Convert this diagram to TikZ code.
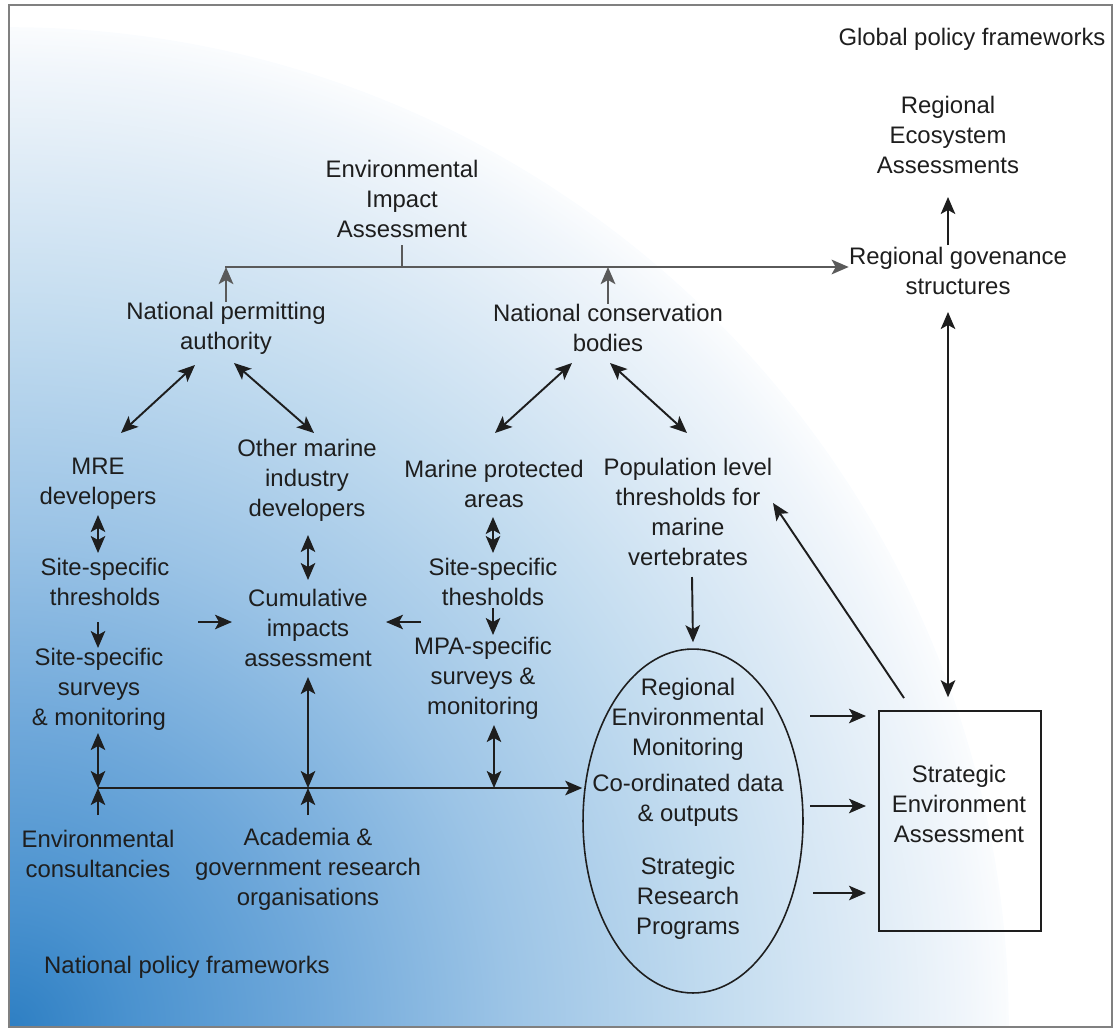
\documentclass[tikz,border=0pt]{standalone}
\usepackage{fontspec}
\setmainfont{Liberation Sans}
\usepackage{xcolor}
\usetikzlibrary{arrows.meta,shapes.geometric}
\definecolor{ink}{HTML}{1E1E1E}
\definecolor{rulegray}{HTML}{5A5A5A}
\definecolor{framegray}{HTML}{808080}
\definecolor{bgdeep}{HTML}{2E7FC3}
\definecolor{bgdark}{HTML}{4A92CF}
\definecolor{bgmid}{HTML}{6FA8DA}
\definecolor{bglight}{HTML}{9CC4E6}
\definecolor{bgpale}{HTML}{C1DBEF}
\definecolor{bgmist}{HTML}{DEEBF6}
\definecolor{bgfaint}{HTML}{F1F6FB}
\pgfdeclareradialshading{policyglow}{\pgfpoint{0bp}{0bp}}{%
  color(0bp)=(bgdeep); color(3bp)=(bgdark); color(7.5bp)=(bgmid);
  color(12.5bp)=(bglight); color(17.5bp)=(bgpale); color(21.5bp)=(bgmist);
  color(24bp)=(bgfaint); color(25.5bp)=(white); color(50bp)=(white)}

\begin{document}
\begin{tikzpicture}[
  x=0.02cm,y=-0.02cm,
  >={Stealth[length=3.4mm,width=2.9mm,inset=0.8mm]},
  txt/.style={align=center,inner sep=0pt,text=ink,
              font=\fontsize{13.6}{17}\selectfont},
  arr/.style={->,line width=1.1pt,draw=ink},
  dbl/.style={<->,line width=1.1pt,draw=ink},
  topline/.style={line width=1.6pt,draw=rulegray},
  hub/.style={draw=ink,ellipse,line width=0.9pt,inner sep=0pt,
              minimum width=4.4cm,minimum height=6.88cm},
  sebox/.style={draw=ink,line width=0.9pt,inner sep=0pt,
                minimum width=3.24cm,minimum height=4.4cm}]
  \useasboundingbox (0,0) rectangle (1115,1028);
  % background
  \begin{scope}
    \clip (9,5) rectangle (1112,1027);
    \shade[shading=policyglow] (9,1027) circle[radius=20cm];
  \end{scope}
  \draw[framegray,line width=1pt] (9,5) rectangle (1112,1027);

  \node[txt] (gpf) at (972,39) {Global policy frameworks};
  \node[txt] (rea) at (948,135) {Regional\\Ecosystem\\Assessments};
  \node[txt] (rgs) at (958,271) {Regional govenance\\structures};
  \node[txt] (eia) at (402,199) {Environmental\\Impact\\Assessment};
  \node[txt] (npa) at (226,328) {National permitting\\authority};
  \node[txt] (ncb) at (608,328) {National conservation\\bodies};
  \node[txt] (mre) at (98,484) {MRE\\developers};
  \node[txt] (oth) at (307,480) {Other marine\\industry\\developers};
  \node[txt] (mpa) at (494,484) {Marine protected\\areas};
  \node[txt] (pop) at (688,512)
       {Population level\\thresholds for\\marine\\vertebrates};
  \node[txt] (sst) at (105,582) {Site-specific\\thresholds};
  \node[txt] (cia) at (308,628) {Cumulative\\impacts\\assessment};
  \node[txt] (sst2) at (493,582) {Site-specific\\thesholds};
  \node[txt] (sssm) at (99,689) {Site-specific\\surveys\\\& monitoring};
  \node[txt] (mpas) at (483,678) {MPA-specific\\surveys \&\\monitoring};
  \node[txt] (envc) at (98,854) {Environmental\\consultancies};
  \node[txt] (acad) at (308,869)
       {Academia \&\\government research\\organisations};
  \node[txt] (npf) at (187,967) {National policy frameworks};
  \node[hub] (hub) at (693,821) {};
  \node[txt] (rem) at (688,719) {Regional\\Environmental\\Monitoring};
  \node[txt] (cdo) at (688,800) {Co-ordinated data\\\& outputs};
  \node[txt] (srp) at (688,898) {Strategic\\Research\\Programs};
  \node[sebox] (sea) at (960,821) {};
  \node[txt] (seat) at (959,804) {Strategic\\Environment\\Assessment};

  % top tier
  \coordinate (topL) at (225,267);
  \draw[topline,->] (topL) -- (topL -| rgs.west);
  \draw[topline,shorten <=4pt] (eia.south) -- (eia.south |- topL);
  \draw[topline,->] (npa.north) -- (npa.north |- topL);
  \draw[topline,->] (ncb.north) -- (ncb.north |- topL);
  \draw[arr] ([shift={(-10,-26)}]rgs.center) -- ([shift={(0,62)}]rea.center);
  \draw[dbl] ([shift={(-10,41)}]rgs.center) -- ([shift={(-12,-13)}]sea.north);

  % national tier
  \draw[dbl] ([shift={(-31,37)}]npa.center) -- ([shift={(23,-51)}]mre.center);
  \draw[dbl] ([shift={(8,35)}]npa.center) -- ([shift={(7,-47)}]oth.center);
  \draw[dbl] ([shift={(-36,35)}]ncb.center) -- ([shift={(1,-51)}]mpa.center);
  \draw[dbl] ([shift={(2,35)}]ncb.center) -- ([shift={(-1,-79)}]pop.center);

  % site level
  \draw[dbl] ([shift={(0,31)}]mre.center) -- ([shift={(-7,-29)}]sst.center);
  \draw[dbl] ([shift={(-1,33)}]mpa.center) -- ([shift={(0,-29)}]sst2.center);
  \draw[dbl] ([shift={(1,55)}]oth.center) -- ([shift={(0,-48)}]cia.center);
  \draw[arr] ([shift={(-7,40)}]sst.center) -- ([shift={(-1,-41)}]sssm.center);
  \draw[arr] ([shift={(93,40)}]sst.center) -- ([shift={(-76,-6)}]cia.center);
  \draw[arr] ([shift={(-72,40)}]sst2.center) -- ([shift={(78,-6)}]cia.center);
  \draw[arr] ([shift={(0,26)}]sst2.center) -- ([shift={(10,-43)}]mpas.center);

  % data bus
  \coordinate (bus1) at (98,788);
  \coordinate (bus2) at (308,788);
  \coordinate (bus3) at (494,788);
  \draw[arr] (bus1) -- (bus1 -| hub.west);
  \draw[dbl] ([shift={(-1,44)}]sssm.center) -- (bus1);
  \draw[dbl] ([shift={(0,49)}]cia.center) -- (bus2);
  \draw[dbl] ([shift={(11,47)}]mpas.center) -- (bus3);
  \draw[arr] ([shift={(0,-39)}]envc.center) -- (bus1);
  \draw[arr] ([shift={(0,-54)}]acad.center) -- (bus2);

  % regional outputs
  \draw[arr] ([shift={(4,65)}]pop.center) -- ([shift={(0,-6)}]hub.north);
  \draw[arr] ([shift={(117,-105)}]hub.center) -- ([shift={(-94,-105)}]sea.center);
  \draw[arr] ([shift={(117,-15)}]hub.center) -- ([shift={(-94,-15)}]sea.center);
  \draw[arr] ([shift={(120,72)}]hub.center) -- ([shift={(-94,72)}]sea.center);
  \draw[arr] ([shift={(-56,-123)}]sea.center) -- ([shift={(85,-9)}]pop.center);
\end{tikzpicture}
\end{document}
